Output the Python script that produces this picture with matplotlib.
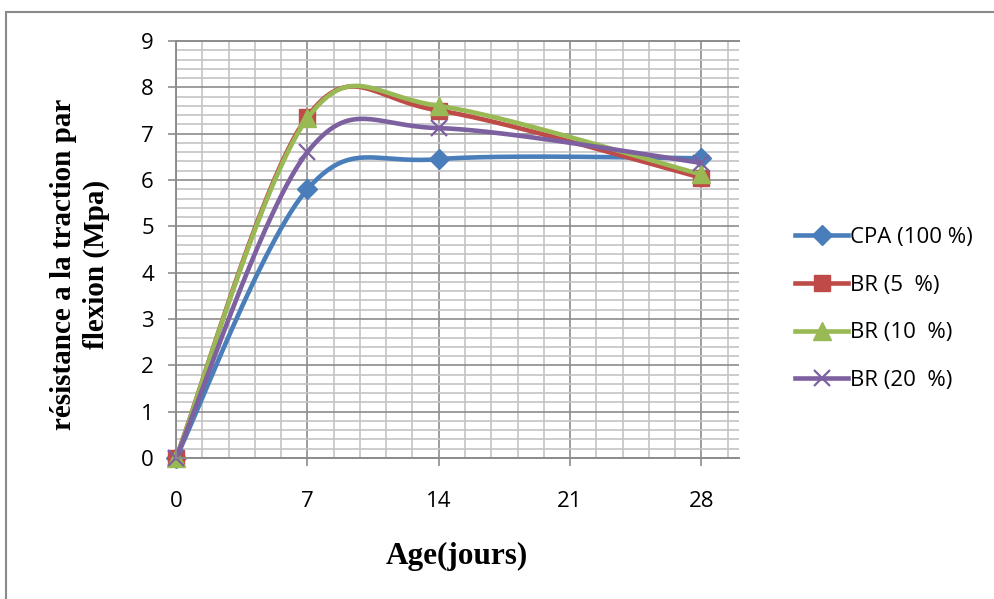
import numpy as np
import matplotlib
matplotlib.use("Agg")
import matplotlib.pyplot as plt
from matplotlib.patches import Rectangle

# ── DATA ──────────────────────────────────────────────────────────────────────
ages     = [0, 7, 14, 28]
cpa_100  = [0, 5.8, 6.45, 6.47]
br_5     = [0, 7.37, 7.5, 6.05]
br_10    = [0, 7.33, 7.6, 6.12]
br_20    = [0, 6.6, 7.12, 6.37]
labels   = ["CPA (100 %)", "BR (5  %)", "BR (10  %)", "BR (20  %)"]
x_ticks  = [0, 7, 14, 21, 28]
y_ticks  = list(range(10))
# ─────────────────────────────────────────────────────────────────────────────


def excel_smooth(xs, ys, n=60):
    """Bezier smoothing like Excel's 'smoothed line' (Catmull-Rom, 1/6 tension)."""
    p = np.column_stack([xs, ys]).astype(float)
    pts = np.vstack([p[0], p, p[-1]])
    out = []
    for i in range(1, len(pts) - 2):
        p0, p1, p2, p3 = pts[i - 1], pts[i], pts[i + 1], pts[i + 2]
        c1 = p1 + (p2 - p0) / 6
        c2 = p2 - (p3 - p1) / 6
        t = np.linspace(0, 1, n)[:, None]
        seg = ((1 - t) ** 3) * p1 + 3 * ((1 - t) ** 2) * t * c1 \
            + 3 * (1 - t) * t ** 2 * c2 + t ** 3 * p2
        out.append(seg if i == 1 else seg[1:])
    seg = np.vstack(out)
    return seg[:, 0], seg[:, 1]


series = [
    (cpa_100, "#4A7EBB", "D", 10.5, {}),
    (br_5,    "#BE4B48", "s", 12, {}),
    (br_10,   "#98B954", "^", 12.5, {}),
    (br_20,   "#7D60A0", "x", 11, {"markeredgewidth": 1.6}),
]
LW = 3.3
TICK_FS = 16

fig = plt.figure(figsize=(9.95, 5.99), dpi=100)
ax = fig.add_axes([176 / 995, 1 - 458 / 599, (739 - 176) / 995, (458 - 41) / 599])

# outer chart frame (only left and top visible in the reference)
fig.patches.append(Rectangle((6 / 995, -0.1), 1.2, (1 - 12 / 599) + 0.1,
                             transform=fig.transFigure, fill=False,
                             edgecolor="#8a8a8a", linewidth=1.5))

for ys, col, mk, ms, extra in series:
    sx, sy = excel_smooth(ages, ys)
    ax.plot(sx, sy, color=col, linewidth=LW, solid_capstyle="round", clip_on=False)
    ax.plot(ages, ys, linestyle="none", marker=mk, markersize=ms, color=col,
            markerfacecolor=col, markeredgecolor=col, clip_on=False, **extra)

# legend proxies
handles = []
for ys, col, mk, ms, extra in series:
    h, = ax.plot([], [], color=col, linewidth=LW, marker=mk, markersize=ms,
                 markerfacecolor=col, markeredgecolor=col, **extra)
    handles.append(h)
fig.legend(handles, labels, loc="center left", bbox_to_anchor=(775 / 995, 1 - 309 / 599),
           frameon=False, handlelength=2.4, handletextpad=0.08,
           labelspacing=1.2, prop={"family": "Open Sans", "size": TICK_FS})

ax.set_xlim(0, 30)
ax.set_ylim(0, 9)
ax.set_xticks(x_ticks)
ax.set_yticks(y_ticks)
ax.set_xticks(np.arange(0, 30.01, 1.4), minor=True)
ax.set_yticks(np.arange(0, 9.01, 0.2), minor=True)
ax.grid(which="major", color="#8c8c8c", linewidth=1.2)
ax.grid(which="minor", color="#c4c4c4", linewidth=1.2)
ax.set_axisbelow(True)
ax.tick_params(which="minor", length=0)
ax.tick_params(which="major", direction="out", length=6, width=1.2, color="#8c8c8c",
               labelsize=TICK_FS)
ax.tick_params(axis="x", pad=18)
ax.tick_params(axis="y", pad=10)
for lab in ax.get_xticklabels() + ax.get_yticklabels():
    lab.set_family("Open Sans")

ax.spines["right"].set_visible(False)
for side in ["left", "bottom", "top"]:
    ax.spines[side].set_color("#8c8c8c")
    ax.spines[side].set_linewidth(1.4)

fig.text(457 / 995, 1 - 556 / 599, "Age(jours)", ha="center", va="center",
         family="Liberation Serif", weight="bold", fontsize=22.5)
fig.text(80 / 995, 1 - 264 / 599, "résistance a la traction par\nflexion (Mpa)",
         rotation=90, ha="center", va="center", multialignment="center",
         family="Liberation Serif", weight="bold", fontsize=21, linespacing=1.3)

fig.savefig("out.png", dpi=100)
